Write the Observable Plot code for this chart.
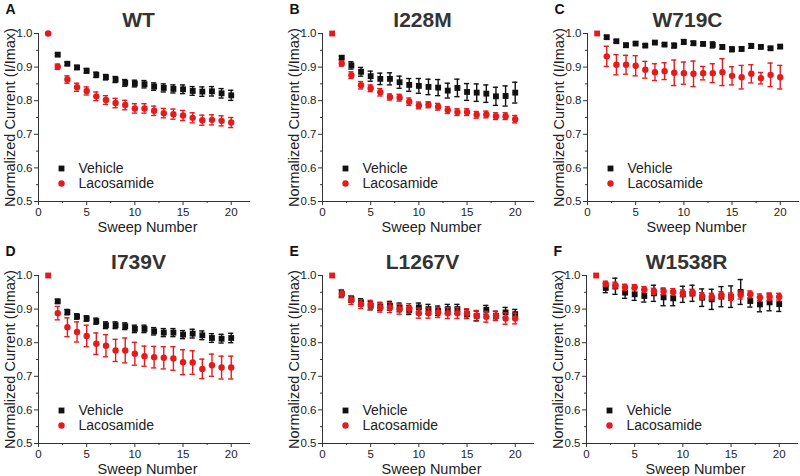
<!DOCTYPE html>
<html>
<head>
<meta charset="utf-8">
<script src="https://cdn.jsdelivr.net/npm/d3@7"></script>
<script src="https://cdn.jsdelivr.net/npm/@observablehq/plot@0.6"></script>
<style>
  html, body { margin: 0; padding: 0; background: #fff; }
  #chart { position: relative; width: 800px; height: 476px; overflow: hidden; background: #fff; }
  #chart svg { position: absolute; overflow: visible; }
</style>
</head>
<body>
<div id="chart"></div>
<script>
// ---- data ----
const panelLetters = ["A", "B", "C", "D", "E", "F"];
const mutants = ["WT", "I228M", "W719C", "I739V", "L1267V", "W1538R"];
const sweepNumbers = [1,2,3,4,5,6,7,8,9,10,11,12,13,14,15,16,17,18,19,20];
const seriesNames = ["Vehicle", "Lacosamide"];
const xTicks = [0, 5, 10, 15, 20];
const yTicks = [0.5, 0.6, 0.7, 0.8, 0.9, 1.0];
const firstPointSymbol = ["circle", "square", "square", "square", "square", "square"];

const vehicleWT     = [1.0,0.937,0.910,0.899,0.889,0.877,0.870,0.863,0.853,0.851,0.849,0.842,0.838,0.835,0.834,0.829,0.827,0.828,0.822,0.816];
const vehicleWTErr  = [0,0.004,0.005,0.006,0.007,0.008,0.008,0.009,0.010,0.010,0.011,0.011,0.012,0.012,0.013,0.013,0.014,0.014,0.014,0.015];
const lacoWT        = [1.0,0.901,0.863,0.840,0.829,0.813,0.802,0.793,0.787,0.777,0.777,0.770,0.763,0.760,0.756,0.749,0.742,0.743,0.740,0.735];
const lacoWTErr     = [0,0.008,0.011,0.012,0.012,0.013,0.013,0.014,0.014,0.014,0.014,0.014,0.014,0.015,0.015,0.015,0.015,0.015,0.015,0.015];

const vehicleI228M    = [1.0,0.928,0.905,0.886,0.873,0.865,0.865,0.855,0.847,0.844,0.841,0.839,0.830,0.838,0.826,0.824,0.821,0.813,0.814,0.824];
const vehicleI228MErr = [0,0.005,0.011,0.013,0.015,0.017,0.018,0.018,0.019,0.022,0.023,0.024,0.022,0.026,0.025,0.026,0.026,0.027,0.030,0.031];
const lacoI228M       = [1.0,0.911,0.876,0.846,0.837,0.825,0.811,0.809,0.797,0.786,0.788,0.782,0.772,0.766,0.766,0.758,0.759,0.754,0.754,0.745];
const lacoI228MErr    = [0,0.008,0.010,0.011,0.010,0.011,0.009,0.010,0.011,0.010,0.009,0.010,0.010,0.010,0.010,0.010,0.010,0.010,0.010,0.011];

const vehicleW719C    = [1.0,0.989,0.977,0.965,0.970,0.964,0.973,0.967,0.964,0.975,0.971,0.969,0.966,0.960,0.953,0.954,0.963,0.960,0.956,0.961];
const vehicleW719CErr = [0,0.005,0.004,0.006,0.004,0.004,0.004,0.004,0.007,0.007,0.006,0.005,0.009,0.006,0.007,0.006,0.007,0.005,0.004,0.005];
const lacoW719C       = [1.0,0.932,0.907,0.907,0.904,0.892,0.885,0.888,0.883,0.882,0.880,0.882,0.882,0.885,0.874,0.870,0.880,0.867,0.877,0.870];
const lacoW719CErr    = [0,0.030,0.030,0.028,0.030,0.025,0.025,0.025,0.038,0.033,0.038,0.020,0.028,0.040,0.027,0.035,0.027,0.017,0.035,0.035];

const vehicleI739V    = [1.0,0.923,0.891,0.878,0.872,0.864,0.852,0.852,0.849,0.841,0.841,0.834,0.830,0.830,0.824,0.827,0.822,0.814,0.812,0.814];
const vehicleI739VErr = [0,0.006,0.008,0.008,0.008,0.009,0.010,0.010,0.010,0.011,0.011,0.011,0.012,0.012,0.012,0.013,0.013,0.013,0.013,0.014];
const lacoI739V       = [1.0,0.888,0.846,0.832,0.820,0.797,0.791,0.777,0.777,0.767,0.760,0.757,0.755,0.753,0.742,0.741,0.722,0.733,0.726,0.726];
const lacoI739VErr    = [0,0.020,0.028,0.030,0.032,0.032,0.033,0.033,0.037,0.034,0.030,0.032,0.033,0.035,0.037,0.035,0.029,0.033,0.034,0.034];

const vehicleL1267V    = [1.0,0.946,0.930,0.920,0.910,0.908,0.910,0.905,0.897,0.905,0.900,0.895,0.900,0.900,0.885,0.880,0.898,0.880,0.890,0.885];
const vehicleL1267VErr = [0,0.010,0.010,0.011,0.012,0.012,0.013,0.013,0.013,0.013,0.014,0.014,0.014,0.014,0.013,0.014,0.013,0.013,0.015,0.014];
const lacoL1267V       = [1.0,0.946,0.927,0.915,0.912,0.905,0.905,0.900,0.902,0.888,0.888,0.890,0.888,0.888,0.887,0.880,0.877,0.880,0.872,0.872];
const lacoL1267VErr    = [0,0.012,0.013,0.013,0.014,0.014,0.015,0.015,0.014,0.015,0.015,0.015,0.016,0.016,0.014,0.016,0.016,0.014,0.017,0.016];

const vehicleW1538R    = [1.0,0.963,0.968,0.949,0.944,0.939,0.947,0.935,0.932,0.944,0.947,0.934,0.929,0.937,0.937,0.951,0.924,0.914,0.920,0.915];
const vehicleW1538RErr = [0,0.014,0.024,0.017,0.018,0.018,0.024,0.025,0.022,0.024,0.024,0.026,0.030,0.030,0.032,0.037,0.018,0.022,0.025,0.022];
const lacoW1538R       = [1.0,0.975,0.970,0.965,0.965,0.958,0.953,0.953,0.951,0.947,0.949,0.939,0.937,0.942,0.937,0.942,0.944,0.935,0.937,0.937];
const lacoW1538RErr    = [0,0.008,0.010,0.009,0.008,0.009,0.009,0.010,0.010,0.010,0.010,0.010,0.010,0.010,0.011,0.012,0.010,0.010,0.011,0.010];

const vehicleSeries = [vehicleWT, vehicleI228M, vehicleW719C, vehicleI739V, vehicleL1267V, vehicleW1538R];
const vehicleErrors = [vehicleWTErr, vehicleI228MErr, vehicleW719CErr, vehicleI739VErr, vehicleL1267VErr, vehicleW1538RErr];
const lacoSeries    = [lacoWT, lacoI228M, lacoW719C, lacoI739V, lacoL1267V, lacoW1538R];
const lacoErrors    = [lacoWTErr, lacoI228MErr, lacoW719CErr, lacoI739VErr, lacoL1267VErr, lacoW1538RErr];

// ---- layout (pixels) ----
const axisLeft = [38, 322, 587, 38, 322, 586];
const rowTop   = [0, 0, 0, 242, 242, 242];
const mLeft = 38, mTop = 33, plotW = 212, plotH = 168, mBottom = 36, mRight = 2;
const BLACK = "#111111", RED = "#e41a1c", TEXT = "#222222";
const FONT = "'Liberation Sans', Arial, Helvetica, sans-serif";

function rows(values, errs) {
  return sweepNumbers.map((x, i) => ({x, y: values[i], e: errs[i]}));
}

const chart = document.getElementById("chart");

mutants.forEach((name, p) => {
  const veh = rows(vehicleSeries[p], vehicleErrors[p]);
  const lac = rows(lacoSeries[p], lacoErrors[p]);
  const vehErr = veh.filter(d => d.e > 0);
  const lacErr = lac.filter(d => d.e > 0);
  const capHalf = 0.27;

  const errorMarks = (data, color) => [
    Plot.ruleX(data, {x: "x", y1: d => d.y - d.e, y2: d => d.y + d.e, stroke: color, strokeWidth: 1.4}),
    Plot.ruleY(data, {y: d => d.y + d.e, x1: d => d.x - capHalf, x2: d => d.x + capHalf, stroke: color, strokeWidth: 1.4}),
    Plot.ruleY(data, {y: d => d.y - d.e, x1: d => d.x - capHalf, x2: d => d.x + capHalf, stroke: color, strokeWidth: 1.4})
  ];

  const svg = Plot.plot({
    width: mLeft + plotW + mRight,
    height: mTop + plotH + mBottom,
    marginLeft: mLeft, marginRight: mRight, marginTop: mTop, marginBottom: mBottom,
    style: {fontFamily: FONT, background: "transparent", overflow: "visible"},
    x: {domain: [0, 22], axis: null},
    y: {domain: [0.5, 1.0], axis: null},
    marks: [
      // axes
      Plot.axisX({ticks: xTicks, tickSize: 4, tickPadding: 2, fontSize: 11.5, color: TEXT, stroke: "#333", label: null, tickFormat: d3.format("d")}),
      Plot.axisX({ticks: [2.5, 7.5, 12.5, 17.5], tickSize: 2, stroke: "#333", text: null, label: null}),
      Plot.axisY({ticks: yTicks, tickSize: 4, tickPadding: 2, fontSize: 11.5, color: TEXT, stroke: "#333", label: null, tickFormat: d3.format(".1f")}),
      Plot.axisY({ticks: [0.55, 0.65, 0.75, 0.85, 0.95], tickSize: 2, stroke: "#333", text: null, label: null}),
      Plot.ruleX([0], {stroke: "#333", strokeWidth: 1}),
      Plot.ruleY([0.5], {stroke: "#333", strokeWidth: 1}),
      // vehicle
      ...errorMarks(vehErr, BLACK),
      Plot.dot(veh.filter(d => d.x > 1), {x: "x", y: "y", symbol: "square", r: 3.3, fill: BLACK, stroke: null}),
      // lacosamide
      ...errorMarks(lacErr, RED),
      Plot.dot(lac.filter(d => d.x > 1), {x: "x", y: "y", symbol: "circle", r: 3.2, fill: RED, stroke: null}),
      Plot.dot(lac.filter(d => d.x === 1), {x: "x", y: "y", symbol: firstPointSymbol[p], r: 3.3, fill: RED, stroke: null}),
      // legend
      Plot.dot([seriesNames[0]], {frameAnchor: "bottom-left", dx: 23, dy: -33, symbol: "square", r: 3.3, fill: BLACK, stroke: null}),
      Plot.dot([seriesNames[1]], {frameAnchor: "bottom-left", dx: 23, dy: -18, symbol: "circle", r: 3.2, fill: RED, stroke: null}),
      Plot.text([seriesNames[0]], {text: d => d, frameAnchor: "bottom-left", dx: 40, dy: -33, textAnchor: "start", lineAnchor: "middle", fontSize: 14, fill: TEXT}),
      Plot.text([seriesNames[1]], {text: d => d, frameAnchor: "bottom-left", dx: 40, dy: -18, textAnchor: "start", lineAnchor: "middle", fontSize: 14, fill: TEXT}),
      // titles and labels
      Plot.text([name], {text: d => d, frameAnchor: "top", dx: -6, dy: -13, lineAnchor: "middle", textAnchor: "middle", fontSize: 21, fontWeight: "bold", fill: "#333"}),
      Plot.text([panelLetters[p]], {text: d => d, frameAnchor: "top-left", dx: -33, dy: -24, textAnchor: "start", lineAnchor: "middle", fontSize: 14, fontWeight: "bold", fill: "#111"}),
      Plot.text(["Normalized Current (I/Imax)"], {text: d => d, frameAnchor: "left", dx: -28, rotate: -90, textAnchor: "middle", lineAnchor: "middle", fontSize: 14.5, fill: TEXT}),
      Plot.text(["Sweep Number"], {text: d => d, frameAnchor: "bottom", dx: 3, dy: 26, textAnchor: "middle", lineAnchor: "middle", fontSize: 14.5, fill: TEXT})
    ]
  });
  svg.style.left = (axisLeft[p] - mLeft) + "px";
  svg.style.top = rowTop[p] + "px";
  chart.appendChild(svg);
});
</script>
</body>
</html>
